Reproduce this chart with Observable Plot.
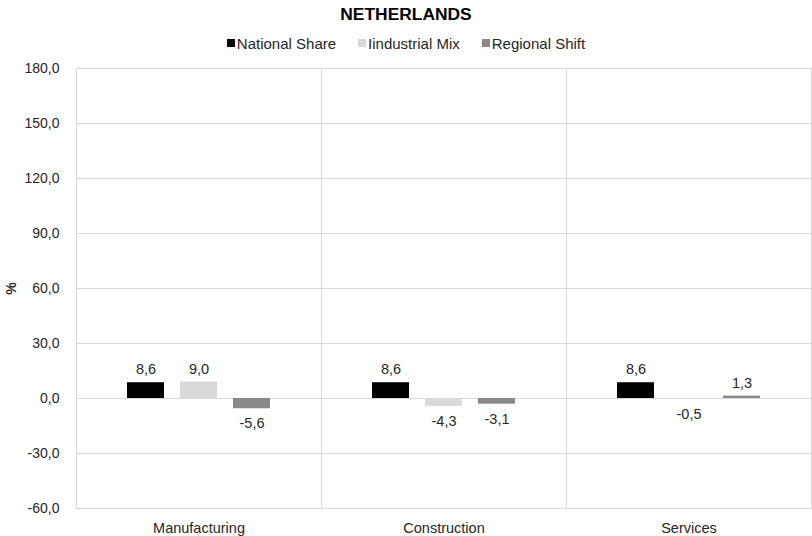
<!DOCTYPE html>
<html>
<head>
<meta charset="utf-8">
<script src="https://cdn.jsdelivr.net/npm/d3@7"></script>
<script src="https://cdn.jsdelivr.net/npm/@observablehq/plot@0.6"></script>
<style>
  html, body { margin: 0; padding: 0; background: #fff; }
  body { width: 812px; height: 536px; font-family: "Liberation Sans", Arial, sans-serif; color: #262626; }
  #title { height: 28px; line-height: 28px; text-align: center; font-weight: bold; font-size: 17.4px; color: #000; }
  #legend { height: 30px; display: flex; justify-content: center; align-items: center; font-size: 15px; gap: 22px; }
  #legend .item { display: flex; align-items: center; }
  #legend .sw { width: 8px; height: 8px; margin-right: 2px; }
  g[aria-label="y-axis label"] text { font-weight: bold; }
  g[aria-label="fx-axis tick label"] text, g[aria-label="text"] text { font-size: 14.5px; }
</style>
</head>
<body>
<div id="title">NETHERLANDS</div>
<div id="legend"></div>
<div id="chart"></div>
<script>
const categories = ["Manufacturing", "Construction", "Services"];
const series = ["National Share", "Iindustrial Mix", "Regional Shift"];
const nationalShare = [8.6, 8.6, 8.6];
const industrialMix = [9.0, -4.3, -0.5];
const regionalShift = [-5.6, -3.1, 1.3];
const yTicks = [-60, -30, 0, 30, 60, 90, 120, 150, 180];
const colors = ["#000000", "#d9d9d9", "#898989"];

const values = [nationalShare, industrialMix, regionalShift];
const data = [];
categories.forEach((c, i) => series.forEach((s, j) => data.push({category: c, series: s, value: values[j][i]})));
const fmt = d => d.toFixed(1).replace(".", ",");

const legend = document.getElementById("legend");
series.forEach((s, j) => {
  const it = document.createElement("div");
  it.className = "item";
  const sw = document.createElement("span");
  sw.className = "sw";
  sw.style.background = colors[j];
  const t = document.createElement("span");
  t.textContent = s;
  it.appendChild(sw); it.appendChild(t);
  legend.appendChild(it);
});

const chart = Plot.plot({
  width: 812,
  height: 478,
  marginLeft: 75,
  marginRight: 1,
  marginTop: 10,
  marginBottom: 28,
  style: {fontFamily: '"Liberation Sans", Arial, sans-serif', fontSize: "14px", color: "#262626", background: "#fff"},
  fx: {domain: categories, padding: 0, label: null},
  x: {domain: series, paddingInner: 0.296, paddingOuter: 0.92, axis: null},
  y: {domain: [-60, 180], label: "%"},
  color: {domain: series, range: colors},
  marks: [
    Plot.gridY(yTicks, {stroke: "#d9d9d9", strokeOpacity: 1}),
    Plot.frame({stroke: "#d9d9d9", strokeOpacity: 1}),
    Plot.barY(data, {fx: "category", x: "series", y: "value", fill: "series"}),
    Plot.text(data.filter(d => d.value >= 0), {fx: "category", x: "series", y: "value", text: d => fmt(d.value), dy: -13, fill: "#262626"}),
    Plot.text(data.filter(d => d.value < 0), {fx: "category", x: "series", y: "value", text: d => fmt(d.value), dy: 15, fill: "#262626"}),
    Plot.axisY(yTicks, {tickSize: 0, tickPadding: 17, tickFormat: fmt, label: "%", labelAnchor: "center", labelArrow: "none", labelOffset: 70}),
    Plot.axisFx({anchor: "bottom", tickSize: 0, tickPadding: 14, label: null})
  ]
});
document.getElementById("chart").appendChild(chart);
</script>
</body>
</html>
